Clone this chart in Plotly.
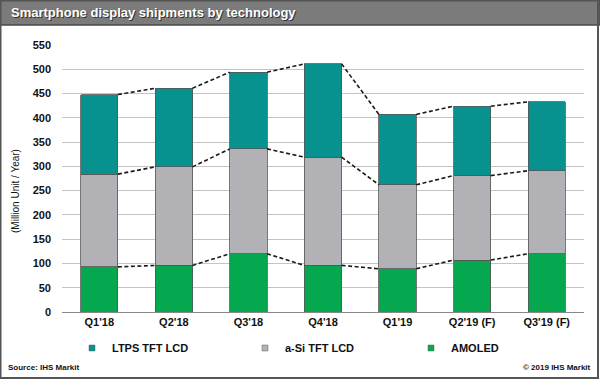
import plotly.graph_objects as go

categories = ["Q1'18", "Q2'18", "Q3'18", "Q4'18", "Q1'19", "Q2'19 (F)", "Q3'19 (F)"]
amoled = [93, 96, 120, 96, 89, 107, 120]
asi = [191, 203, 216, 223, 173, 174, 171]
ltps = [164, 162, 158, 192, 145, 143, 142]
y_ticks = [0, 50, 100, 150, 200, 250, 300, 350, 400, 450, 500, 550]

C_LTPS = "#08928f"
C_ASI = "#b2b2b6"
C_AMO = "#05a84e"

W, H = 600, 380
ML, MR, MT, MB = 62, 16, 45, 68
PW, PH = W - ML - MR, H - MT - MB

def px_x(p):
    return (p - ML) / PW

def px_y(p):  # p from top
    return (H - p - MB) / PH

x = list(range(len(categories)))
fig = go.Figure()
line_style = dict(color="#555555", width=0.8)
for name, vals, col in [("AMOLED", amoled, C_AMO), ("a-Si TFT LCD", asi, C_ASI), ("LTPS TFT LCD", ltps, C_LTPS)]:
    fig.add_trace(go.Bar(x=x, y=vals, name=name, marker=dict(color=col, line=line_style),
                         width=0.5, showlegend=False))

# cumulative levels for connectors
lvl1 = amoled
lvl2 = [a + b for a, b in zip(amoled, asi)]
lvl3 = [a + b + c for a, b, c in zip(amoled, asi, ltps)]
for lv in (lvl1, lvl2, lvl3):
    cx, cy = [], []
    for i in range(len(lv) - 1):
        cx += [i + 0.25, i + 0.75, None]
        cy += [lv[i], lv[i + 1], None]
    fig.add_trace(go.Scatter(x=cx, y=cy, mode="lines", line=dict(color="#1a1a1a", width=1.6, dash="4px,2.5px"),
                             showlegend=False, hoverinfo="skip"))

# legend entries, each in its own legend box
legend_defs = [("LTPS TFT LCD", C_LTPS, "legend", 72), ("a-Si TFT LCD", C_ASI, "legend2", 245),
               ("AMOLED", C_AMO, "legend3", 411)]
legend_layout = {}
for name, col, lg, lx in legend_defs:
    fig.add_trace(go.Scatter(x=[None], y=[None], mode="markers", name=name, legend=lg,
                             marker=dict(symbol="square", size=6, color=col, line=dict(color="#666", width=0.5))))
    legend_layout[lg] = dict(orientation="h", x=px_x(lx), xanchor="left", y=px_y(348), yanchor="middle",
                             font=dict(size=11, family="Arial", weight="bold", color="#111"),
                             bgcolor="rgba(0,0,0,0)", itemwidth=30)

fig.update_layout(
    width=W, height=H,
    margin=dict(l=ML, r=MR, t=MT, b=MB, autoexpand=False),
    barmode="stack",
    paper_bgcolor="white", plot_bgcolor="white",
    font=dict(family="Arial", color="#111111"),
    showlegend=True,
    xaxis=dict(range=[-0.5, 6.5], tickvals=x, ticktext=categories, showgrid=False,
               showline=True, linecolor="#888888", linewidth=1, ticks="", automargin=False,
               tickfont=dict(size=11, family="Arial", weight="bold"), zeroline=False, fixedrange=True),
    yaxis=dict(range=[0, 550], tickvals=y_ticks, showgrid=True, gridcolor="#c4c4c4", gridwidth=1,
               zeroline=False, ticks="", ticklen=0, ticklabelstandoff=10, automargin=False,
               tickfont=dict(size=11, family="Arial", weight="bold"), fixedrange=True),
    shapes=[
        dict(type="rect", xref="paper", yref="paper", x0=px_x(0), x1=px_x(W), y0=px_y(25), y1=px_y(0),
             fillcolor="#7b7b7b", line=dict(color="#4a4a4a", width=1.5), layer="below"),
        dict(type="rect", xref="paper", yref="paper", x0=px_x(0.5), x1=px_x(W - 2), y0=px_y(H - 2), y1=px_y(0.5),
             fillcolor="rgba(0,0,0,0)", line=dict(color="#555555", width=2)),
    ],
    annotations=[
        dict(text="Smartphone display shipments by technology", xref="paper", yref="paper",
             x=px_x(9), y=px_y(12.5), xanchor="left", yanchor="middle", showarrow=False,
             font=dict(size=13, color="#333333", family="Arial", weight="bold"), xshift=1, yshift=-1),
        dict(text="Smartphone display shipments by technology", xref="paper", yref="paper",
             x=px_x(9), y=px_y(12.5), xanchor="left", yanchor="middle", showarrow=False,
             font=dict(size=13, color="white", family="Arial", weight="bold")),
        dict(text="(Million Unit / Year)", xref="paper", yref="paper", x=px_x(15), y=px_y(191),
             xanchor="center", yanchor="middle", textangle=-90, showarrow=False,
             font=dict(size=10, family="Arial", color="#111")),
        dict(text="Source: IHS Markit", xref="paper", yref="paper", x=px_x(6), y=px_y(367),
             xanchor="left", yanchor="middle", showarrow=False,
             font=dict(size=8, family="Arial", weight="bold", color="#111")),
        dict(text="© 2019 IHS Markit", xref="paper", yref="paper", x=px_x(593), y=px_y(367),
             xanchor="right", yanchor="middle", showarrow=False,
             font=dict(size=8, family="Arial", weight="bold", color="#111")),
    ],
    **legend_layout,
)

fig.write_html("out.html", config={"displayModeBar": False},
               post_script="document.body.style.margin='0';document.body.style.overflow='hidden';")
